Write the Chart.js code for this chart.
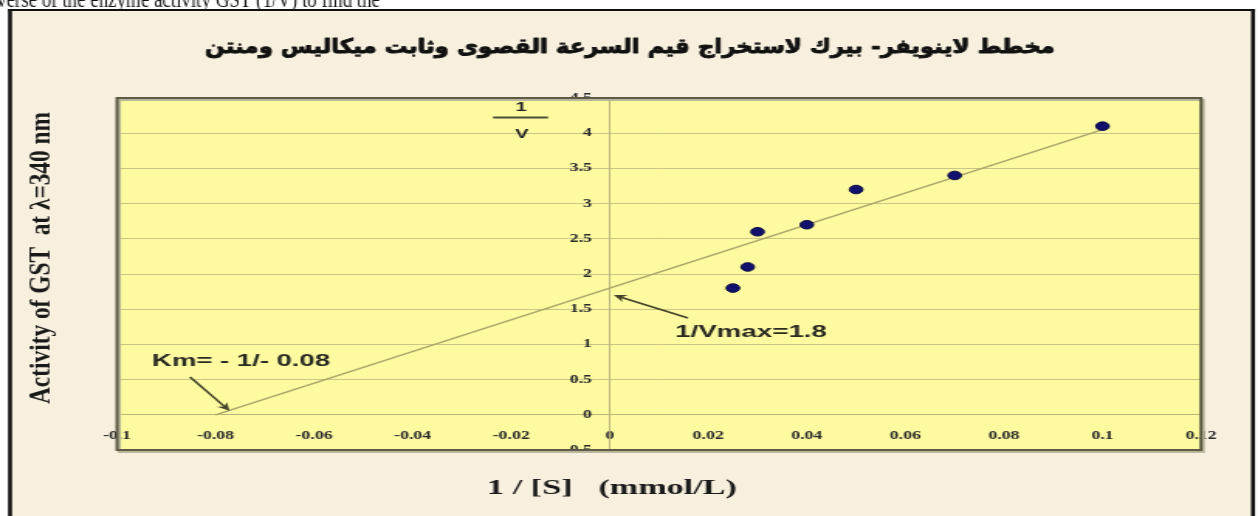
<!DOCTYPE html>
<html>
<head>
<meta charset="utf-8">
<script src="https://cdn.jsdelivr.net/npm/chart.js@4.4.1/dist/chart.umd.min.js"></script>
<style>
  html, body { margin: 0; padding: 0; background: #ffffff; overflow: hidden; }
  /* the chart is drawn narrow and widened on screen */
  #lb { display: block; width: 1258px; height: 516px; }
</style>
</head>
<body>
<canvas id="lb" width="812" height="516" style="width:1258px;height:516px"></canvas>
<script>
// Lineweaver-Burk data: 1/[S] against 1/V
const inverseSubstrate = [0.025, 0.028, 0.03, 0.04, 0.05, 0.07, 0.1];
const inverseVelocity  = [1.8, 2.1, 2.6, 2.7, 3.2, 3.4, 4.1];

// Straight line through the two intercepts
const interceptY = 1.8;     // 1/Vmax
const interceptX = -0.08;   // -1/Km
const fitLineX = [-0.08, 0.1];
const fitLineY = [0, 4.05];

// Axis ticks
const xTickValues = [-0.1, -0.08, -0.06, -0.04, -0.02, 0, 0.02, 0.04, 0.06, 0.08, 0.1, 0.12];
const yTickValues = [-0.5, 0, 0.5, 1, 1.5, 2, 2.5, 3, 3.5, 4, 4.5];

// Text
const chartTitle = 'مخطط لاينويفر- بيرك لاستخراج قيم السرعة القصوى وثابت ميكاليس ومنتن';
const yAxisTitle = 'Activity of GST  at \u03BB=340 nm';
const xAxisTitle = '1 / [S]   (mmol/L)';
const kmLabel = 'Km= - 1/- 0.08';
const vmaxLabel = '1/Vmax=1.8';
const captionLine = 'verse of the enzyme activity GST (1/V) to find the';

const pointData = inverseSubstrate.map((x, i) => ({ x, y: inverseVelocity[i] }));
const lineData = fitLineX.map((x, i) => ({ x, y: fitLineY[i] }));

const CANVAS_W = 812;
const SHOWN_W = 1258;
const k = CANVAS_W / SHOWN_W;          // on-screen x -> canvas x
const ix = v => v * k;

// draws text squeezed or widened to an exact on-screen width
function fitText(ctx, text, x, y, shownWidth, align, strokeW) {
  ctx.save();
  ctx.textAlign = align;
  const w = ctx.measureText(text).width;
  ctx.translate(x, y);
  ctx.scale(ix(shownWidth) / w, 1);
  ctx.fillText(text, 0, 0);
  if (strokeW) {
    ctx.strokeStyle = ctx.fillStyle;
    ctx.lineWidth = strokeW;
    ctx.lineJoin = 'round';
    ctx.strokeText(text, 0, 0);
  }
  ctx.restore();
}

function drawArrow(ctx, x1, y1, x2, y2, color) {
  const ang = Math.atan2(y2 - y1, x2 - x1);
  const head = 9, spread = 0.45;
  ctx.save();
  ctx.strokeStyle = color;
  ctx.fillStyle = color;
  ctx.lineWidth = 1.6;
  ctx.beginPath();
  ctx.moveTo(x1, y1);
  ctx.lineTo(x2 - Math.cos(ang) * 4, y2 - Math.sin(ang) * 4);
  ctx.stroke();
  ctx.beginPath();
  ctx.moveTo(x2, y2);
  ctx.lineTo(x2 - head * Math.cos(ang - spread), y2 - head * Math.sin(ang - spread));
  ctx.lineTo(x2 - head * 0.6 * Math.cos(ang), y2 - head * 0.6 * Math.sin(ang));
  ctx.lineTo(x2 - head * Math.cos(ang + spread), y2 - head * Math.sin(ang + spread));
  ctx.closePath();
  ctx.fill();
  ctx.restore();
}

const framePlugin = {
  id: 'frame',
  beforeDraw(chart) {
    const { ctx, chartArea: a } = chart;
    ctx.save();
    ctx.fillStyle = '#ffffff';
    ctx.fillRect(0, 0, chart.width, chart.height);
    // caption line of the surrounding page, cut by the top edge
    ctx.fillStyle = '#111111';
    ctx.font = '23px "Liberation Serif"';
    ctx.textBaseline = 'alphabetic';
    fitText(ctx, captionLine, ix(-3), 7, 383, 'left');
    // outer panel
    ctx.fillStyle = '#f8f0de';
    ctx.fillRect(ix(10), 10, ix(1242), chart.height - 10);
    ctx.fillStyle = '#111111';
    ctx.fillRect(ix(8), 9, ix(4), chart.height - 9);
    ctx.fillRect(ix(1251), 9, ix(4), chart.height - 9);
    ctx.fillRect(ix(8), 9, ix(1247), 2);
    // plot area
    ctx.fillStyle = '#fdfaa0';
    ctx.fillRect(a.left, a.top, a.right - a.left, a.bottom - a.top);
    ctx.restore();
  },
  afterDraw(chart) {
    const { ctx, chartArea: a, scales } = chart;
    const sx = scales.x, sy = scales.y;
    ctx.save();
    // plot border with a soft shadow
    ctx.strokeStyle = '#bab69c';
    ctx.lineWidth = 2;
    ctx.strokeRect(a.left + 1.5, a.top + 2, a.right - a.left, a.bottom - a.top);
    ctx.strokeStyle = '#5d5a45';
    ctx.strokeRect(a.left, a.top, a.right - a.left, a.bottom - a.top);

    // title
    ctx.fillStyle = '#111111';
    ctx.textBaseline = 'middle';
    ctx.direction = 'rtl';
    ctx.font = 'bold 20px "DejaVu Sans"';
    fitText(ctx, chartTitle, ix(630), 48, 850, 'center', 0.9);
    ctx.direction = 'ltr';

    // vertical axis title
    ctx.save();
    ctx.translate(ix(43), 258);
    ctx.rotate(-Math.PI / 2);
    ctx.font = 'bold 18px "Liberation Serif"';
    ctx.fillStyle = '#1a1a1a';
    ctx.textAlign = 'center';
    const tw = ctx.measureText(yAxisTitle).width;
    ctx.scale(292 / tw, 1);
    ctx.fillText(yAxisTitle, 0, 0);
    ctx.restore();

    // horizontal axis title
    ctx.font = 'bold 22px "Liberation Serif"';
    ctx.fillStyle = '#1a1a1a';
    fitText(ctx, xAxisTitle, ix(612), 488, 250, 'center');

    // 1/V label
    ctx.font = 'bold 13px "Liberation Sans"';
    ctx.fillStyle = '#222222';
    ctx.textAlign = 'center';
    ctx.fillText('1', ix(521), 107);
    ctx.fillText('V', ix(522), 134);
    ctx.strokeStyle = '#4f4d38';
    ctx.lineWidth = 2;
    ctx.beginPath();
    ctx.moveTo(ix(493), 117.5);
    ctx.lineTo(ix(548), 117.5);
    ctx.stroke();

    // intercept annotations
    const kx = sx.getPixelForValue(interceptX), ky = sy.getPixelForValue(0);
    const vx = sx.getPixelForValue(0), vy = sy.getPixelForValue(interceptY);
    drawArrow(ctx, ix(190), 377, kx + ix(14), ky - 4, '#45432a');
    drawArrow(ctx, ix(688), 318, vx + ix(4), vy + 7, '#45432a');
    ctx.font = 'bold 16px "Liberation Sans"';
    ctx.fillStyle = '#2a2a22';
    fitText(ctx, kmLabel, ix(152), 362, 178, 'left');
    ctx.font = 'bold 17px "Liberation Sans"';
    fitText(ctx, vmaxLabel, ix(675), 332, 152, 'left');
    ctx.restore();
  }
};

const tickFont = { family: 'Liberation Serif', weight: 'bold', size: 11.5 };

new Chart(document.getElementById('lb'), {
  type: 'scatter',
  data: {
    datasets: [
      {
        label: '1/V',
        data: pointData,
        order: 0,
        pointRadius: 4.3,
        pointHoverRadius: 4.3,
        pointBackgroundColor: '#12126e',
        pointBorderColor: '#0b0b40',
        pointBorderWidth: 1
      },
      {
        label: 'line',
        data: lineData,
        order: 1,
        showLine: true,
        pointRadius: 0,
        borderColor: '#aaa66a',
        borderWidth: 1.5
      }
    ]
  },
  options: {
    responsive: false,
    animation: false,
    events: [],
    layout: { padding: { left: ix(117), top: 98, right: CANVAS_W - ix(1201), bottom: 66 } },
    plugins: { legend: { display: false }, tooltip: { enabled: false }, title: { display: false } },
    scales: {
      x: {
        type: 'linear',
        position: { y: 0 },
        min: -0.1,
        max: 0.12,
        afterBuildTicks: s => { s.ticks = xTickValues.map(v => ({ value: v })); },
        grid: { display: false, drawTicks: false },
        border: { display: true, color: '#b9b57c', width: 1 },
        ticks: { font: tickFont, color: '#2a2a2a', padding: 14, maxRotation: 0, autoSkip: false, callback: v => String(v) }
      },
      y: {
        type: 'linear',
        position: { x: 0 },
        min: -0.5,
        max: 4.5,
        afterBuildTicks: s => { s.ticks = yTickValues.map(v => ({ value: v })); },
        grid: { color: '#c9c488', lineWidth: 1, drawTicks: false },
        border: { display: true, color: '#b9b57c', width: 1 },
        ticks: { font: tickFont, color: '#2a2a2a', autoSkip: false, callback: v => String(v) + '\u2003' }
      }
    }
  },
  plugins: [framePlugin]
});
</script>
</body>
</html>
